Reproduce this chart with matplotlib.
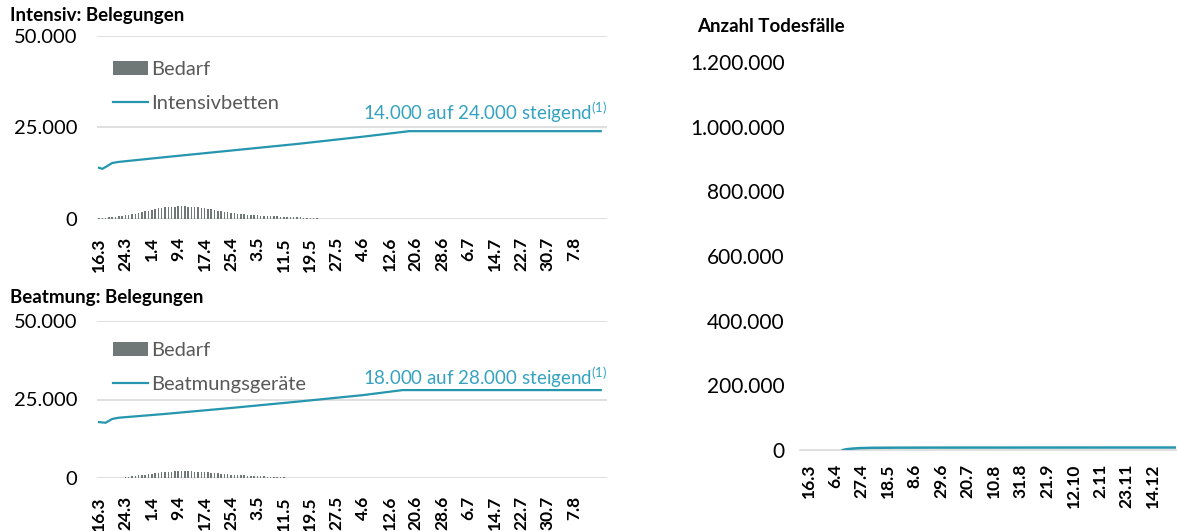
import matplotlib
matplotlib.use("Agg")
import matplotlib.pyplot as plt
from matplotlib.patches import Patch
from matplotlib.lines import Line2D
from matplotlib.ticker import FuncFormatter, FixedLocator, FixedFormatter

plt.rcParams['font.family'] = ['Lato', 'DejaVu Sans']
plt.rcParams['mathtext.fontset'] = 'custom'
plt.rcParams['mathtext.rm'] = 'Lato'

TEAL = '#2596ad'
TEAL_TEXT = '#35a3c0'
BAR_GREY = '#6f7777'
GRID = '#d9d9d9'

# ---- Belegungen (left panels): days counted from 16.3 ----
left_tick_days = list(range(0, 145, 8))
left_tick_labels = ['16.3', '24.3', '1.4', '9.4', '17.4', '25.4', '3.5', '11.5', '19.5',
                    '27.5', '4.6', '12.6', '20.6', '28.6', '6.7', '14.7', '22.7', '30.7', '7.8']

# Intensivbetten capacity (vertices of the line)
icu_days = [0, 1, 2, 4, 6, 20, 40, 60, 80, 94, 152]
icu_beds = [14000, 13700, 14200, 15300, 15600, 16900, 18700, 20500, 22500, 24000, 24000]

# Bedarf Intensiv (daily occupancy demand)
icu_demand_days = list(range(0, 67))
icu_demand = [300, 350, 400, 450, 550, 650, 750, 850, 1000, 1150,
              1300, 1500, 1700, 1900, 2100, 2300, 2500, 2700, 2900, 3000,
              3150, 3250, 3350, 3400, 3450, 3500, 3450, 3400, 3350, 3250,
              3150, 3000, 2900, 2750, 2600, 2450, 2300, 2150, 2000, 1850,
              1700, 1600, 1500, 1400, 1300, 1200, 1100, 1050, 1000, 950,
              900, 850, 800, 750, 700, 650, 600, 550, 500, 470,
              440, 410, 380, 350, 320, 300, 280]

# Beatmungsgeräte capacity (vertices of the line)
vent_days = [0, 2, 4, 6, 20, 40, 60, 80, 92, 152]
vent_devices = [17800, 17600, 18800, 19200, 20400, 22300, 24300, 26400, 28000, 28000]

# Bedarf Beatmung (daily occupancy demand)
vent_demand_days = list(range(8, 57))
vent_demand = [300, 400, 500, 650, 800, 950, 1100, 1250, 1400, 1550,
               1700, 1800, 1900, 2000, 2050, 2100, 2150, 2200, 2200, 2150,
               2100, 2050, 2000, 1950, 1900, 1800, 1700, 1600, 1500, 1400,
               1300, 1200, 1100, 1000, 900, 850, 800, 750, 700, 650,
               600, 550, 500, 450, 400, 350, 300, 250, 200]

# ---- Todesfälle (right panel): days counted from 16.3 ----
right_tick_days = list(range(0, 274, 21))
right_tick_labels = ['16.3', '6.4', '27.4', '18.5', '8.6', '29.6', '20.7', '10.8',
                     '31.8', '21.9', '12.10', '2.11', '23.11', '14.12']
death_days = [27, 30, 35, 40, 50, 70, 100, 150, 200, 250, 290]
deaths = [0, 2500, 4500, 5800, 6800, 7200, 7400, 7500, 7600, 7700, 7700]


def thousands(v, _pos=None):
    return f"{v:,.0f}".replace(",", ".")


fig = plt.figure(figsize=(11.77, 5.31), dpi=100)
W, H = 1177, 531


def px_axes(x0, x1, ytop, ybot):
    return fig.add_axes([x0 / W, 1 - ybot / H, (x1 - x0) / W, (ybot - ytop) / H])


def belegung_panel(ax, days, values, dem_days, dem_vals, line_label, note, note_y, leg_top):
    ax.bar(dem_days, dem_vals, width=0.45, color=BAR_GREY, zorder=2)
    ax.plot(days, values, color=TEAL, lw=1.6, zorder=3)
    ax.set_ylim(0, 50000)
    ax.set_xlim(-0.6, 153.9)
    ax.set_yticks([0, 25000, 50000])
    ax.yaxis.set_major_formatter(FuncFormatter(thousands))
    ax.grid(axis='y', color=GRID, lw=1.2, zorder=0)
    ax.set_axisbelow(True)
    for s in ax.spines.values():
        s.set_visible(False)
    ax.xaxis.set_major_locator(FixedLocator(left_tick_days))
    ax.xaxis.set_major_formatter(FixedFormatter(left_tick_labels))
    ax.tick_params(axis='y', length=0, pad=14, labelsize=14.5)
    ax.tick_params(axis='x', length=0, pad=13, labelsize=12.5, labelrotation=90)
    for lab in ax.get_xticklabels():
        lab.set_fontweight('bold')
    handles = [Patch(facecolor=BAR_GREY, edgecolor='none', label='Bedarf'),
               Line2D([0], [0], color=TEAL, lw=1.6, label=line_label)]
    leg = ax.legend(handles=handles, loc='upper left', bbox_to_anchor=(0.015, leg_top),
                    frameon=False, fontsize=14.5, handlelength=1.75, handletextpad=0.15,
                    labelspacing=0.85, borderaxespad=0)
    for t in leg.get_texts():
        t.set_color('#595959')
    ax.text(1.0, note_y, note, transform=ax.transAxes, ha='right', va='center',
            color=TEAL_TEXT, fontsize=13.5)


ax1 = px_axes(97, 607, 36, 219)
belegung_panel(ax1, icu_days, icu_beds, icu_demand_days, icu_demand,
               'Intensivbetten', r'14.000 auf 24.000 steigend$^{\mathrm{(1)}}$', 0.585, 0.91)

ax2 = px_axes(97, 607, 321, 478)
belegung_panel(ax2, vent_days, vent_devices, vent_demand_days, vent_demand,
               'Beatmungsgeräte', r'18.000 auf 28.000 steigend$^{\mathrm{(1)}}$', 0.645, 0.92)

fig.text(10 / W, 1 - 15 / H, 'Intensiv: Belegungen', fontsize=13.5, fontweight='bold', va='center')
fig.text(10 / W, 1 - 297 / H, 'Beatmung: Belegungen', fontsize=13.5, fontweight='bold', va='center')

# Right panel: Anzahl Todesfälle
ax3 = px_axes(800, 1176, 62, 450)
ax3.plot(death_days, deaths, color=TEAL, lw=1.8, zorder=3)
ax3.set_ylim(0, 1200000)
ax3.set_xlim(-7, 291)
ax3.set_yticks(range(0, 1200001, 200000))
ax3.yaxis.set_major_formatter(FuncFormatter(thousands))
for name, s in ax3.spines.items():
    s.set_visible(name == 'bottom')
ax3.spines['bottom'].set_color(GRID)
ax3.spines['bottom'].set_linewidth(1.2)
ax3.xaxis.set_major_locator(FixedLocator(right_tick_days))
ax3.xaxis.set_major_formatter(FixedFormatter(right_tick_labels))
ax3.tick_params(axis='y', length=0, pad=11, labelsize=15)
ax3.tick_params(axis='x', length=0, pad=10, labelsize=12.5, labelrotation=90)
for lab in ax3.get_xticklabels():
    lab.set_fontweight('bold')
fig.text(697 / W, 1 - 27 / H, 'Anzahl Todesfälle', fontsize=13.5, fontweight='bold', va='center')

fig.savefig('out.png', dpi=100)
